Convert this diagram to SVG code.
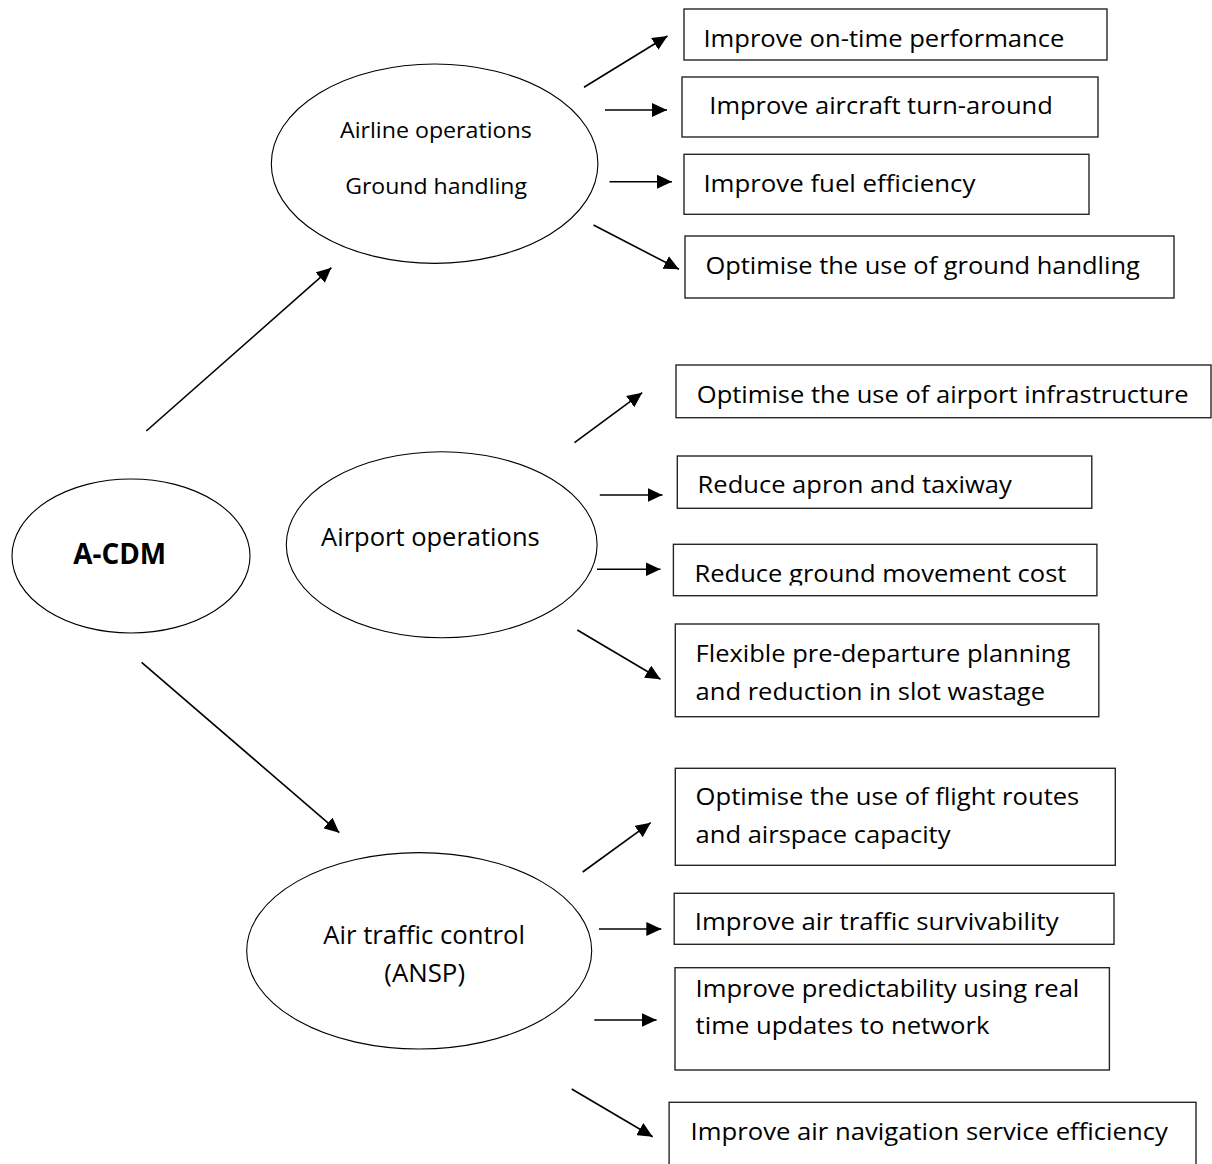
<svg xmlns="http://www.w3.org/2000/svg" width="1212" height="1164" viewBox="0 0 1212 1164">
<style>
.bg{fill:#fff}
.ell{fill:#fff;stroke:#000;stroke-width:1.1}
.box{fill:#fff;stroke:#262626;stroke-width:1.4}
.t{font-family:"Open Sans","Liberation Sans",sans-serif;font-size:24px;fill:#000}
.te{font-family:"Open Sans","Liberation Sans",sans-serif;font-size:22px;fill:#000}
.tm{font-family:"Open Sans","Liberation Sans",sans-serif;font-size:25px;fill:#000}
.tb{font-family:"Open Sans","Liberation Sans",sans-serif;font-size:28px;font-weight:bold;fill:#000}
.c line{stroke:#000;stroke-width:1.6;marker-end:url(#ah)}
</style>
<defs>
<marker id="ah" viewBox="0 0 15 14" refX="15" refY="7" markerWidth="15" markerHeight="14" markerUnits="userSpaceOnUse" orient="auto">
<path d="M0,0 L15,7 L0,14 z" fill="#000"/>
</marker>
<clipPath id="clip7"><rect x="660" y="540" width="450" height="45.5"/></clipPath>
</defs>
<rect class="bg" x="0" y="0" width="1212" height="1164"/>

<g id="acdm">
<ellipse class="ell" cx="131" cy="556" rx="119" ry="77"/>
<text class="tb" x="73.2" y="564.3" textLength="93" lengthAdjust="spacingAndGlyphs">A-CDM</text>
</g>
<g id="airline">
<ellipse class="ell" cx="434.6" cy="163.7" rx="163.3" ry="99.7"/>
<text class="te" x="340" y="138.3" textLength="191.8" lengthAdjust="spacingAndGlyphs">Airline operations</text>
<text class="te" x="345.2" y="194.3" textLength="181.8" lengthAdjust="spacingAndGlyphs">Ground handling</text>
</g>
<g id="airport">
<ellipse class="ell" cx="441.7" cy="544.7" rx="155.4" ry="93"/>
<text class="tm" x="321.1" y="546" textLength="218.6" lengthAdjust="spacingAndGlyphs">Airport operations</text>
</g>
<g id="atc">
<ellipse class="ell" cx="419.2" cy="950.8" rx="172.5" ry="98.2"/>
<text class="tm" x="323.3" y="944" textLength="201.7" lengthAdjust="spacingAndGlyphs">Air traffic control</text>
<text class="tm" x="384.3" y="982.3" textLength="80.7" lengthAdjust="spacingAndGlyphs">(ANSP)</text>
</g>

<g id="b1"><rect class="box" x="684" y="9" width="423" height="51"/>
<text class="t" x="703.4" y="46.7" textLength="361" lengthAdjust="spacingAndGlyphs">Improve on-time performance</text></g>
<g id="b2"><rect class="box" x="682" y="77" width="416" height="60"/>
<text class="t" x="709.3" y="114.3" textLength="343.5" lengthAdjust="spacingAndGlyphs">Improve aircraft turn-around</text></g>
<g id="b3"><rect class="box" x="684" y="154.3" width="405" height="60"/>
<text class="t" x="703.4" y="191.7" textLength="272" lengthAdjust="spacingAndGlyphs">Improve fuel efficiency</text></g>
<g id="b4"><rect class="box" x="685" y="236" width="489" height="62"/>
<text class="t" x="705.4" y="274" textLength="434.4" lengthAdjust="spacingAndGlyphs">Optimise the use of ground handling</text></g>

<g id="b5"><rect class="box" x="676" y="365" width="535" height="52.7"/>
<text class="t" x="696.8" y="402.7" textLength="491.8" lengthAdjust="spacingAndGlyphs">Optimise the use of airport infrastructure</text></g>
<g id="b6"><rect class="box" x="677.3" y="456" width="414.5" height="52.3"/>
<text class="t" x="697.6" y="493.3" textLength="314.2" lengthAdjust="spacingAndGlyphs">Reduce apron and taxiway</text></g>
<g id="b7"><rect class="box" x="673.4" y="544.3" width="423.5" height="51.4"/>
<text class="t" x="694.5" y="581.7" textLength="371.9" lengthAdjust="spacingAndGlyphs" clip-path="url(#clip7)">Reduce ground movement cost</text></g>
<g id="b8"><rect class="box" x="675.3" y="624" width="423.5" height="92.7"/>
<text class="t" x="695.6" y="661.7" textLength="374.7" lengthAdjust="spacingAndGlyphs">Flexible pre-departure planning</text>
<text class="t" x="695.6" y="700" textLength="349.4" lengthAdjust="spacingAndGlyphs">and reduction in slot wastage</text></g>

<g id="b9"><rect class="box" x="675.3" y="768.3" width="440" height="97"/>
<text class="t" x="695.6" y="805" textLength="383.7" lengthAdjust="spacingAndGlyphs">Optimise the use of flight routes</text>
<text class="t" x="695.6" y="843.3" textLength="254.9" lengthAdjust="spacingAndGlyphs">and airspace capacity</text></g>
<g id="b10"><rect class="box" x="674.2" y="893.3" width="439.8" height="51"/>
<text class="t" x="694.8" y="930" textLength="363.8" lengthAdjust="spacingAndGlyphs">Improve air traffic survivability</text></g>
<g id="b11"><rect class="box" x="675" y="967.7" width="434.4" height="102.3"/>
<text class="t" x="695.6" y="996.7" textLength="383.7" lengthAdjust="spacingAndGlyphs">Improve predictability using real</text>
<text class="t" x="695.6" y="1034" textLength="293.9" lengthAdjust="spacingAndGlyphs">time updates to network</text></g>
<g id="b12"><rect class="box" x="669.1" y="1102.3" width="526.9" height="80"/>
<text class="t" x="690.6" y="1140" textLength="477.3" lengthAdjust="spacingAndGlyphs">Improve air navigation service efficiency</text></g>

<g id="connectors" class="c">
<line x1="146.3" y1="431" x2="331.4" y2="267.7"/>
<line x1="141.6" y1="662.3" x2="339.3" y2="832.7"/>
<line x1="584" y1="87.3" x2="667.5" y2="36"/>
<line x1="605" y1="110" x2="667" y2="110"/>
<line x1="609.5" y1="181.7" x2="672" y2="181.7"/>
<line x1="593.5" y1="225" x2="679" y2="269.3"/>
<line x1="574.5" y1="442.7" x2="642.2" y2="392.7"/>
<line x1="599.8" y1="495" x2="662.5" y2="495"/>
<line x1="597" y1="569.3" x2="660.5" y2="569.3"/>
<line x1="577.3" y1="630" x2="660.5" y2="679.3"/>
<line x1="582.7" y1="872" x2="650.7" y2="822.7"/>
<line x1="599" y1="929" x2="661.3" y2="929"/>
<line x1="594.3" y1="1020" x2="656.6" y2="1020"/>
<line x1="571.7" y1="1089" x2="652.7" y2="1136.7"/>
</g>
</svg>
